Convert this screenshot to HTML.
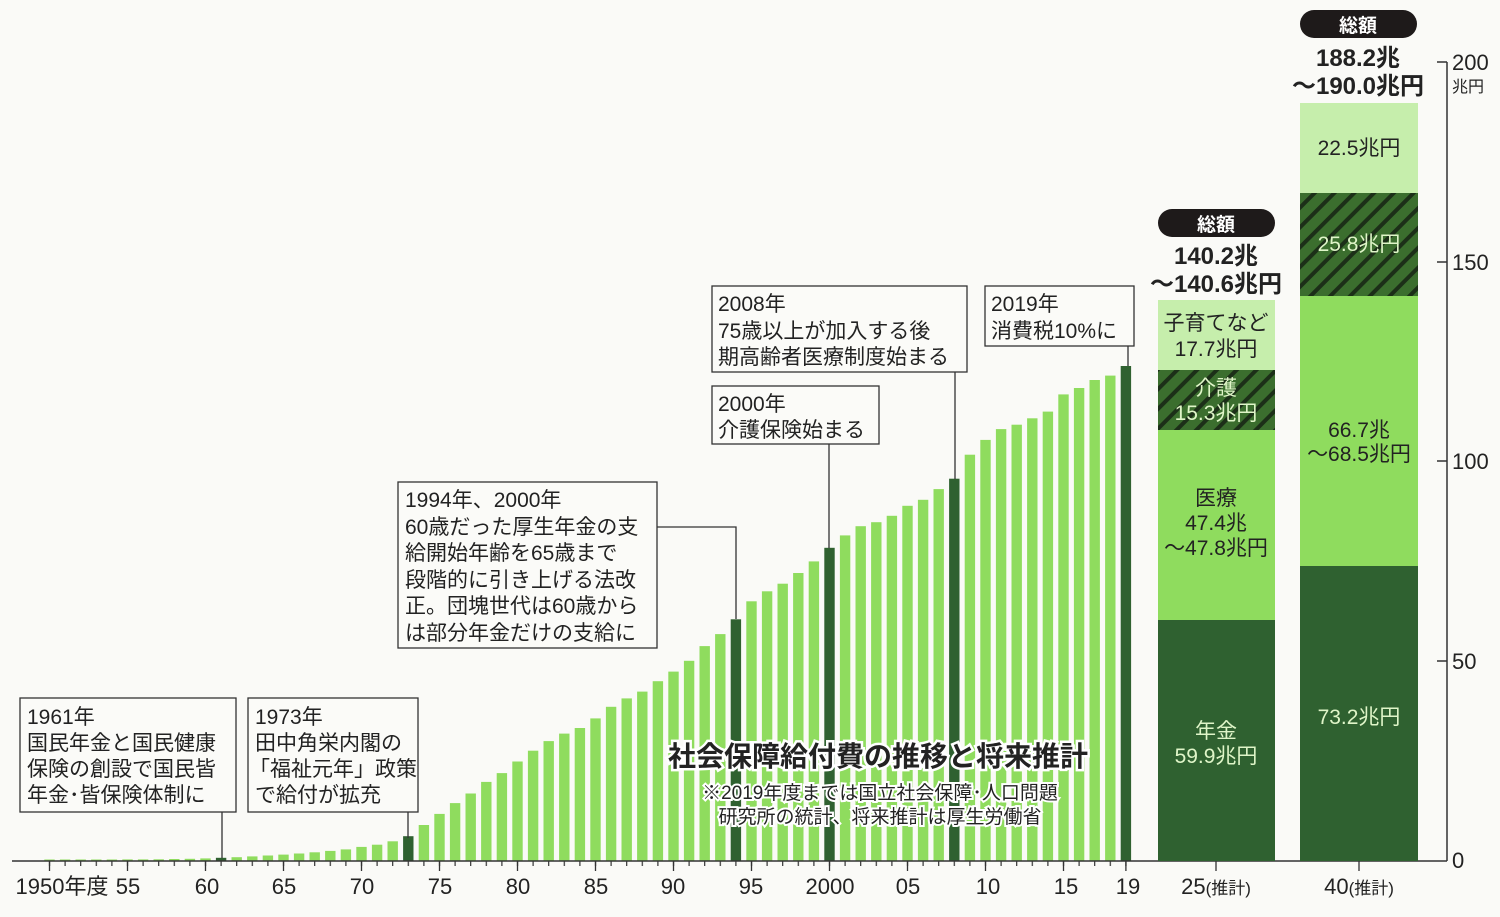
<!DOCTYPE html>
<html><head><meta charset="utf-8"><style>
body{margin:0;background:#fafaf7;}
svg{display:block;font-family:"Liberation Sans","Noto Sans CJK JP",sans-serif;}
</style></head><body>
<svg width="1500" height="917" viewBox="0 0 1500 917" xmlns="http://www.w3.org/2000/svg">
<defs>
<pattern id="h" width="14" height="14" patternUnits="userSpaceOnUse" patternTransform="rotate(45)">
<rect width="14" height="14" fill="#3b6e2e"/><rect width="4" height="14" fill="#1c2f18"/>
</pattern>
<pattern id="tk" x="44" y="861" width="15.6" height="6" patternUnits="userSpaceOnUse">
<rect x="4.9" y="0" width="1.2" height="6" fill="#333"/>
</pattern>
</defs>
<rect width="1500" height="917" fill="#fafaf7"/>
<g transform="translate(0,861) scale(1,-1)" fill="#8fdc5e">
<rect x="44.3" width="10.4" height="1.5"/><rect x="59.9" width="10.4" height="1.5"/><rect x="75.5" width="10.4" height="1.5"/><rect x="91.1" width="10.4" height="1.5"/><rect x="106.7" width="10.4" height="1.5"/><rect x="122.3" width="10.4" height="1.6"/><rect x="137.9" width="10.4" height="1.6"/><rect x="153.5" width="10.4" height="1.7"/><rect x="169.1" width="10.4" height="2"/><rect x="184.7" width="10.4" height="2.2"/><rect x="200.3" width="10.4" height="2.6"/><rect x="215.9" width="10.4" height="3.2" fill="#2f6130"/><rect x="231.5" width="10.4" height="3.8"/><rect x="247.1" width="10.4" height="4.6"/><rect x="262.7" width="10.4" height="5.5"/><rect x="278.3" width="10.4" height="6.4"/><rect x="293.9" width="10.4" height="7.5"/><rect x="309.5" width="10.4" height="8.7"/><rect x="325.1" width="10.4" height="10.1"/><rect x="340.7" width="10.4" height="11.6"/><rect x="356.3" width="10.4" height="14.1"/><rect x="371.9" width="10.4" height="16.3"/><rect x="387.5" width="10.4" height="19.7"/><rect x="403.1" width="10.4" height="24.8" fill="#2f6130"/><rect x="418.7" width="10.4" height="36"/><rect x="434.3" width="10.4" height="47.1"/><rect x="449.9" width="10.4" height="57.9"/><rect x="465.5" width="10.4" height="67.5"/><rect x="481.1" width="10.4" height="79.1"/><rect x="496.7" width="10.4" height="87.9"/><rect x="512.3" width="10.4" height="99.5"/><rect x="527.9" width="10.4" height="110.3"/><rect x="543.5" width="10.4" height="119.9"/><rect x="559.1" width="10.4" height="127.4"/><rect x="574.7" width="10.4" height="133"/><rect x="590.3" width="10.4" height="142.6"/><rect x="605.9" width="10.4" height="154.2"/><rect x="621.5" width="10.4" height="162.6"/><rect x="637.1" width="10.4" height="169.4"/><rect x="652.7" width="10.4" height="179.8"/><rect x="668.3" width="10.4" height="189.4"/><rect x="683.9" width="10.4" height="200.2"/><rect x="699.5" width="10.4" height="214.9"/><rect x="715.1" width="10.4" height="226.9"/><rect x="730.7" width="10.4" height="241.7" fill="#2f6130"/><rect x="746.3" width="10.4" height="259.7"/><rect x="761.9" width="10.4" height="269.7"/><rect x="777.5" width="10.4" height="277.3"/><rect x="793.1" width="10.4" height="288"/><rect x="808.7" width="10.4" height="299.6"/><rect x="824.3" width="10.4" height="313.2" fill="#2f6130"/><rect x="839.9" width="10.4" height="325.6"/><rect x="855.5" width="10.4" height="334.8"/><rect x="871.1" width="10.4" height="338.8"/><rect x="886.7" width="10.4" height="345.2"/><rect x="902.3" width="10.4" height="355.2"/><rect x="917.9" width="10.4" height="361.2"/><rect x="933.5" width="10.4" height="371.9"/><rect x="949.1" width="10.4" height="382.3" fill="#2f6130"/><rect x="964.7" width="10.4" height="406.3"/><rect x="980.3" width="10.4" height="421.1"/><rect x="995.9" width="10.4" height="431.9"/><rect x="1011.5" width="10.4" height="436.3"/><rect x="1027.1" width="10.4" height="442.7"/><rect x="1042.7" width="10.4" height="449.4"/><rect x="1058.3" width="10.4" height="466.6"/><rect x="1073.9" width="10.4" height="473"/><rect x="1089.5" width="10.4" height="481"/><rect x="1105.1" width="10.4" height="485.4"/><rect x="1120.7" width="10.4" height="495" fill="#2f6130"/>
</g>
<!-- axes -->
<g stroke="#333" stroke-width="1.5" fill="none">
<line x1="1447" y1="62" x2="1447" y2="861"/>
<line x1="1437" y1="62" x2="1447" y2="62"/><line x1="1437" y1="262" x2="1447" y2="262"/>
<line x1="1437" y1="461" x2="1447" y2="461"/><line x1="1437" y1="661" x2="1447" y2="661"/>
<line x1="12" y1="861" x2="1447" y2="861"/>
</g>
<rect x="44" y="861" width="1088" height="5" fill="url(#tk)"/>
<g stroke="#333" stroke-width="1.3">
<line x1="49.5" y1="861" x2="49.5" y2="871"/><line x1="127.5" y1="861" x2="127.5" y2="871"/><line x1="205.5" y1="861" x2="205.5" y2="871"/><line x1="283.5" y1="861" x2="283.5" y2="871"/><line x1="361.5" y1="861" x2="361.5" y2="871"/><line x1="439.5" y1="861" x2="439.5" y2="871"/><line x1="517.5" y1="861" x2="517.5" y2="871"/><line x1="595.5" y1="861" x2="595.5" y2="871"/><line x1="673.5" y1="861" x2="673.5" y2="871"/><line x1="751.5" y1="861" x2="751.5" y2="871"/><line x1="829.5" y1="861" x2="829.5" y2="871"/><line x1="907.5" y1="861" x2="907.5" y2="871"/><line x1="985.5" y1="861" x2="985.5" y2="871"/><line x1="1063.5" y1="861" x2="1063.5" y2="871"/><line x1="1125.9" y1="861" x2="1125.9" y2="871"/>
<line x1="1216" y1="861" x2="1216" y2="871"/><line x1="1359" y1="861" x2="1359" y2="871"/>
</g>
<g font-size="22" fill="#222">
<text x="1452" y="70">200</text><text x="1452" y="92" font-size="16">兆円</text>
<text x="1452" y="270">150</text><text x="1452" y="469">100</text><text x="1452" y="669">50</text><text x="1452" y="868">0</text>
</g>
<g font-size="22" fill="#222" text-anchor="middle">
<text x="62" y="894">1950年度</text><text x="128" y="894">55</text><text x="207" y="894">60</text><text x="284" y="894">65</text><text x="362" y="894">70</text><text x="440" y="894">75</text><text x="518" y="894">80</text><text x="596" y="894">85</text><text x="673" y="894">90</text><text x="751" y="894">95</text><text x="830" y="894">2000</text><text x="908" y="894">05</text><text x="988" y="894">10</text><text x="1066" y="894">15</text><text x="1128" y="894">19</text>
<text x="1216" y="894">25<tspan font-size="17">(推計)</tspan></text><text x="1359" y="894">40<tspan font-size="17">(推計)</tspan></text>
</g>
<!-- stacked 2025 -->
<rect x="1158" y="620" width="117" height="241" fill="#2f6130"/>
<rect x="1158" y="430" width="117" height="190" fill="#8fdc5e"/>
<rect x="1158" y="370" width="117" height="60" fill="url(#h)"/>
<rect x="1158" y="300" width="117" height="70" fill="#c6eeac"/>
<!-- stacked 2040 -->
<rect x="1300" y="566" width="118" height="295" fill="#2f6130"/>
<rect x="1300" y="296" width="118" height="270" fill="#8fdc5e"/>
<rect x="1300" y="193" width="118" height="103" fill="url(#h)"/>
<rect x="1300" y="103" width="118" height="90" fill="#c6eeac"/>
<g font-size="21" text-anchor="middle">
<text x="1216" y="330" fill="#222">子育てなど</text><text x="1216" y="356" fill="#222">17.7兆円</text>
<text x="1216" y="395" fill="#dff5c8">介護</text><text x="1216" y="420" fill="#dff5c8">15.3兆円</text>
<text x="1216" y="505" fill="#222">医療</text><text x="1216" y="530" fill="#222">47.4兆</text><text x="1216" y="555" fill="#222">～47.8兆円</text>
<text x="1216" y="738" fill="#dff5c8">年金</text><text x="1216" y="763" fill="#dff5c8">59.9兆円</text>
<text x="1359" y="155" fill="#222">22.5兆円</text>
<text x="1359" y="251" fill="#dff5c8">25.8兆円</text>
<text x="1359" y="437" fill="#222">66.7兆</text><text x="1359" y="461" fill="#222">～68.5兆円</text>
<text x="1359" y="724" fill="#dff5c8">73.2兆円</text>
</g>
<rect x="1158" y="209" width="117" height="28" rx="14" fill="#1e1a1a"/>
<rect x="1300" y="10" width="117" height="28" rx="14" fill="#1e1a1a"/>
<g font-weight="bold" text-anchor="middle">
<text x="1216" y="231" font-size="19" fill="#fff">総額</text>
<text x="1216" y="264" font-size="24" fill="#222">140.2兆</text>
<text x="1216" y="292" font-size="24" fill="#222">～140.6兆円</text>
<text x="1358" y="32" font-size="19" fill="#fff">総額</text>
<text x="1358" y="66" font-size="24" fill="#222">188.2兆</text>
<text x="1358" y="94" font-size="24" fill="#222">～190.0兆円</text>
</g>
<!-- annotations -->
<g stroke="#333" stroke-width="1.3" fill="#fbfbf8">
<line x1="222" y1="812" x2="222" y2="858"/>
<line x1="408" y1="812" x2="408" y2="838"/>
<polyline points="657,527 736,527 736,619" fill="none"/>
<line x1="829" y1="444" x2="829" y2="548"/>
<line x1="955" y1="372" x2="955" y2="479"/>
<line x1="1128" y1="346" x2="1128" y2="366"/>
<rect x="20" y="698" width="216" height="114"/>
<rect x="248" y="698" width="170" height="114"/>
<rect x="398" y="482" width="259" height="166"/>
<rect x="712" y="386" width="167" height="58"/>
<rect x="712" y="286" width="255" height="86"/>
<rect x="985" y="286" width="149" height="60"/>
</g>
<g font-size="21" fill="#222">
<text x="27" y="724">1961年</text><text x="27" y="750">国民年金と国民健康</text><text x="27" y="776">保険の創設で国民皆</text><text x="27" y="802">年金･皆保険体制に</text>
<text x="255" y="724">1973年</text><text x="255" y="750">田中角栄内閣の</text><text x="249" y="776">「福祉元年」政策</text><text x="255" y="802">で給付が拡充</text>
<text x="405" y="507">1994年、2000年</text><text x="405" y="534">60歳だった厚生年金の支</text><text x="405" y="560">給開始年齢を65歳まで</text><text x="405" y="587">段階的に引き上げる法改</text><text x="405" y="613">正。団塊世代は60歳から</text><text x="405" y="640">は部分年金だけの支給に</text>
<text x="718" y="411">2000年</text><text x="718" y="437">介護保険始まる</text>
<text x="718" y="311">2008年</text><text x="718" y="338">75歳以上が加入する後</text><text x="718" y="364">期高齢者医療制度始まる</text>
<text x="991" y="311">2019年</text><text x="991" y="338">消費税10%に</text>
</g>
<g text-anchor="middle">
<text x="878" y="766" font-size="28" font-weight="bold" fill="#222" stroke="#fff" stroke-width="5" paint-order="stroke">社会保障給付費の推移と将来推計</text>
<text x="880" y="799" font-size="19" fill="#222" stroke="#fff" stroke-width="4" paint-order="stroke">※2019年度までは国立社会保障･人口問題</text>
<text x="880" y="823" font-size="19" fill="#222" stroke="#fff" stroke-width="4" paint-order="stroke">研究所の統計、将来推計は厚生労働省</text>
</g>
</svg>
</body></html>
